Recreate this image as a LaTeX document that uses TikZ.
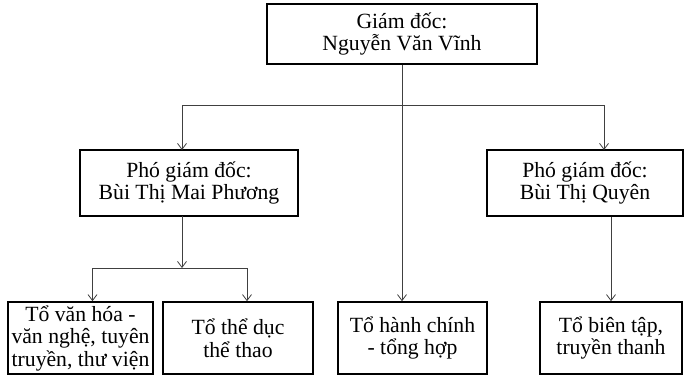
\documentclass[tikz,border=0pt]{standalone}
\usepackage{fontspec}
\setmainfont{Liberation Serif}
\usepackage{tikz}
\usetikzlibrary{arrows.meta}

\begin{document}
\begin{tikzpicture}[
		x=1pt,y=-1pt,
		unit/.style={draw,line width=1.6pt,align=center,inner sep=0pt,
			font=\fontsize{21.7}{22.5}\selectfont},
		link/.style={draw=black!75,line width=0.8pt,-{Straight Barb[length=6pt,width=9pt]}}]
		\useasboundingbox (0,0) rectangle (685,376);

		\node[unit,minimum width=270,minimum height=60] (gd) at (402,34) {Giám đốc:\\Nguyễn Văn Vĩnh};
		\node[unit,minimum width=218,minimum height=66] (pmp) at (189,183) {Phó giám đốc:\\Bùi Thị Mai Phương};
		\node[unit,minimum width=196,minimum height=66] (pq) at (585,183) {Phó giám đốc:\\Bùi Thị Quyên};
		\node[unit,minimum width=145,minimum height=72] (vh) at (80.5,338) {Tổ văn hóa -\\văn nghệ, tuyên\\truyền, thư viện};
		\node[unit,minimum width=150,minimum height=72] (td) at (238,338) {Tổ thể dục\\thể thao};
		\node[unit,minimum width=149,minimum height=72] (hc) at (412.5,338) {Tổ hành chính\\- tổng hợp};
		\node[unit,minimum width=142,minimum height=72] (bt) at (611,338) {Tổ biên tập,\\truyền thanh};

		\coordinate (h1) at (402,105);
		\coordinate (h2) at (182,268);
		\coordinate (mpin) at (182,150);
		\coordinate (mpout) at (182,216);
		\coordinate (qin) at (604,150);

		\draw[link] (gd.south) -- (gd.south |- hc.north);
		\draw[link] (h1) -| (mpin);
		\draw[link] (h1) -| (qin);
		\draw[link] (mpout) -- (h2);
		\draw[link] (h2) -| ([xshift=12pt]vh.north);
		\draw[link] (h2) -| ([xshift=9pt]td.north);
		\draw[link] (pq.south -| bt.north) -- (bt.north);
\end{tikzpicture}
\end{document}
